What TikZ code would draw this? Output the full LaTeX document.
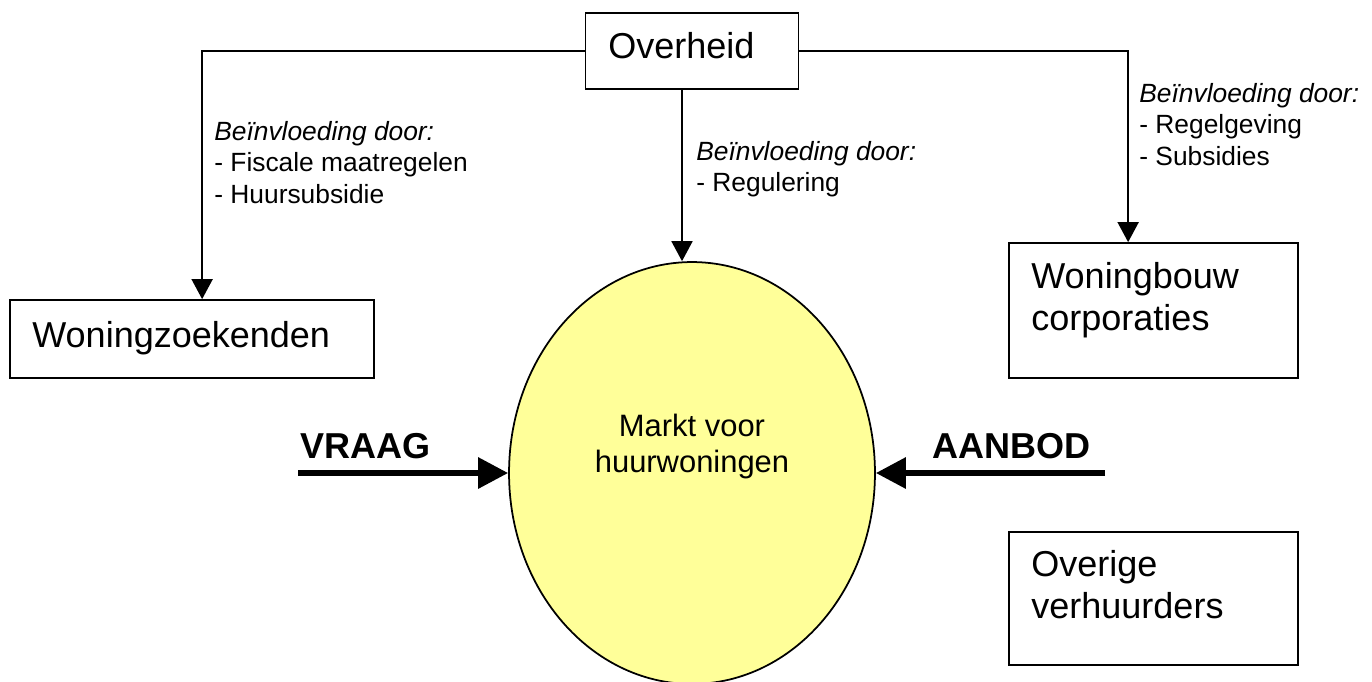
\documentclass[tikz,border=0pt]{standalone}
\usepackage{fontspec}
\setmainfont{Liberation Sans}
\usetikzlibrary{arrows.meta,shapes.geometric}
\definecolor{marktgeel}{RGB}{255,255,153}

\begin{document}
\begin{tikzpicture}[x=0.02cm, y=-0.02cm]
\tikzstyle{box}=[draw, line width=1pt, inner sep=0pt]
\tikzstyle{big}=[font=\fontsize{20.5}{24}\selectfont, inner sep=0pt]
\tikzstyle{bold}=[font=\fontsize{20.5}{24}\selectfont\bfseries, inner sep=0pt]
\tikzstyle{lbl}=[font=\fontsize{15}{17.9}\selectfont, align=left,
                 anchor=north west, inner sep=0pt]
\tikzstyle{link}=[line width=1pt, -{Triangle[length=0.4cm,width=0.42cm]}]
\tikzstyle{fat}=[line width=3.4pt, -{Triangle[length=0.6cm,width=0.6cm]}]
\useasboundingbox (0,0) rectangle (1372,681);
% boxes and market
\node[box, minimum width=4.26cm, minimum height=1.52cm] (overheid) at (692,51) {};
\node[box, minimum width=7.28cm, minimum height=1.56cm] (zoek) at (192,339) {};
\node[box, minimum width=5.78cm, minimum height=2.7cm] (bouw) at (1153.5,310.5) {};
\node[box, minimum width=5.78cm, minimum height=2.66cm] (overig) at (1153.5,598.5) {};
\node[ellipse, draw, line width=1pt, fill=marktgeel, inner sep=0pt,
      minimum width=7.32cm, minimum height=8.44cm] (markt) at (692,473) {};
% texts
\node[big, anchor=base west] (toverheid) at (608,58) {Overheid};
\node[big, anchor=base west] (tzoek) at (32,347) {Woningzoekenden};
\node[big, anchor=north west, align=left] (tbouw) at (1031,262) {Woningbouw\\corporaties};
\node[big, anchor=north west, align=left] (toverig) at (1031,550) {Overige\\verhuurders};
\node[font=\fontsize{17.6}{20.5}\selectfont, align=center, anchor=north,
      inner sep=0pt] (tmarkt) at (692,414) {Markt voor\\huurwoningen};
\node[bold, anchor=base west] (vraag) at (300,458) {VRAAG};
\node[bold, anchor=base west] (aanbod) at (932,458) {AANBOD};
\node[lbl] (infl1) at (214,121) {\textit{Beïnvloeding door:}\\- Fiscale maatregelen\\- Huursubsidie};
\node[lbl] (infl2) at (696,141) {\textit{Beïnvloeding door:}\\- Regulering};
\node[lbl] (infl3) at (1139,83) {\textit{Beïnvloeding door:}\\- Regelgeving\\- Subsidies};
% connectors
\coordinate (vraagstart) at (298,473);
\coordinate (aanbodstart) at (1105,473);
\draw[link] (overheid.west) -| ([xshift=3.86cm]zoek.north west);
\draw[link] (overheid.east) -| ([xshift=2.4cm]bouw.north west);
\draw[link] ([xshift=-0.2cm]overheid.south) -- ([xshift=-0.2cm]markt.north);
\draw[fat] (vraagstart) -- (markt.west);
\draw[fat] (aanbodstart) -- (markt.east);
\end{tikzpicture}
\end{document}
